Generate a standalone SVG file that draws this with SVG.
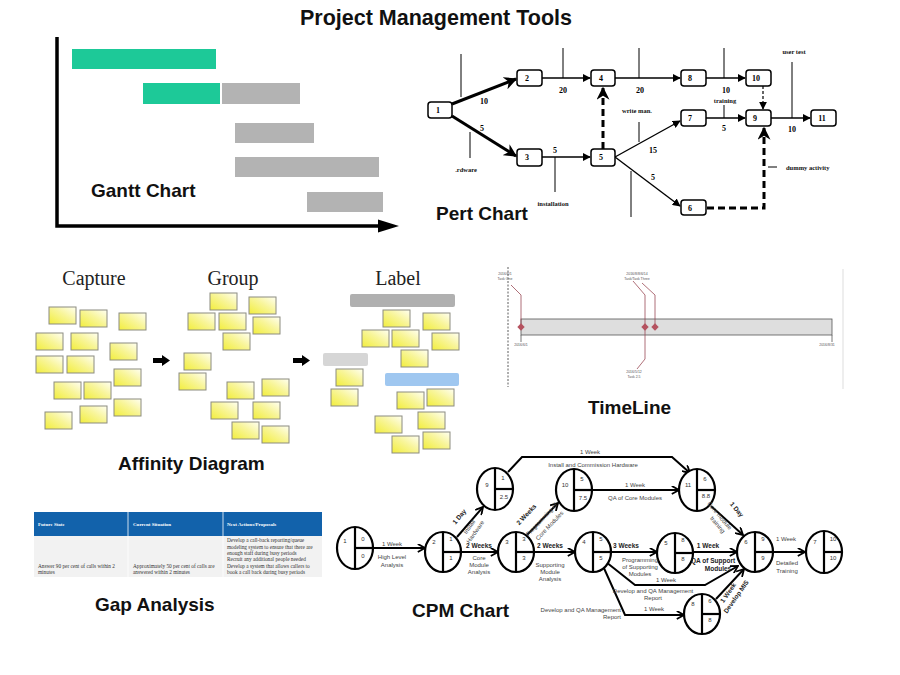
<svg xmlns="http://www.w3.org/2000/svg" width="900" height="675" viewBox="0 0 900 675">
<defs>
<style>
.h{font-family:"Liberation Sans",Arial,sans-serif;font-weight:bold;font-size:19px;fill:#111}
.af{font-family:"Liberation Serif","Times New Roman",serif;font-size:20px;fill:#222;text-anchor:middle}
.note{fill:url(#ng);stroke:#8c8c80;stroke-width:1}
.pn{fill:#fff;stroke:#000;stroke-width:1.5}
.pt{font-family:"Liberation Serif",serif;font-weight:bold;font-size:8px;fill:#000;text-anchor:middle}
.ps{font-family:"Liberation Serif",serif;font-weight:bold;font-size:6.5px;fill:#111;text-anchor:middle}
.pe{fill:none;stroke:#000;stroke-width:1.4}
.pthick{fill:none;stroke:#000;stroke-width:3}
.pd{fill:none;stroke:#000;stroke-width:3;stroke-dasharray:7,4}
.pdt{fill:none;stroke:#000;stroke-width:1.2;stroke-dasharray:3,2}
.tk{stroke:#000;stroke-width:1}
.tl{font-family:"Liberation Sans",sans-serif;font-size:3.5px;fill:#555;text-anchor:middle}
.tlc{fill:none;stroke:#9b4a55;stroke-width:0.8}
.dia{fill:#b5525f}
.cn ellipse{fill:#fff;stroke:#000;stroke-width:2.2}
.cn line{stroke:#000;stroke-width:2.2}
.cn text{font-family:"Liberation Sans",sans-serif;font-size:6px;fill:#333;text-anchor:middle}
.ce{fill:none;stroke:#000;stroke-width:2;marker-end:url(#ca)}
.cl{font-family:"Liberation Sans",sans-serif;font-size:6px;fill:#444;text-anchor:middle}
.cle{font-family:"Liberation Sans",sans-serif;font-size:6px;fill:#444;text-anchor:end}
.cb{font-family:"Liberation Sans",sans-serif;font-size:6.5px;font-weight:bold;fill:#222;text-anchor:middle}
.gh{font-family:"Liberation Serif",serif;font-weight:bold;font-size:5px;fill:#fff}
.gb{font-family:"Liberation Serif",serif;font-size:5.3px;fill:#333}
</style>
<linearGradient id="ng" x1="0" y1="1" x2="1" y2="0">
<stop offset="0" stop-color="#f2ee3c"/>
<stop offset="0.55" stop-color="#f8f59a"/>
<stop offset="1" stop-color="#fffff2"/>
</linearGradient>
<marker id="pa" viewBox="0 0 10 10" refX="9" refY="5" markerWidth="8" markerHeight="8" markerUnits="userSpaceOnUse" orient="auto"><path d="M0,0 L10,5 L0,10 Z" fill="#000"/></marker>
<marker id="pab" viewBox="0 0 10 10" refX="9" refY="5" markerWidth="13" markerHeight="13" markerUnits="userSpaceOnUse" orient="auto"><path d="M0,0 L10,5 L0,10 L3,5 Z" fill="#000"/></marker>
<marker id="ca" viewBox="0 0 10 10" refX="9" refY="5" markerWidth="9" markerHeight="9" markerUnits="userSpaceOnUse" orient="auto"><path d="M1,0.5 L9,5 L1,9.5" fill="none" stroke="#000" stroke-width="2"/></marker>
</defs>
<rect width="900" height="675" fill="#fff"/>

<text x="436" y="25" class="h" style="font-size:21.5px;text-anchor:middle">Project Management Tools</text>

<!-- Gantt -->
<g id="gantt">
<rect x="72" y="49" width="144" height="20" fill="#1dc998"/>
<rect x="143" y="83" width="77" height="21" fill="#1dc998"/>
<rect x="222" y="83" width="78" height="21" fill="#b3b3b3"/>
<rect x="235" y="123" width="79" height="20" fill="#b3b3b3"/>
<rect x="235" y="157" width="144" height="20" fill="#b3b3b3"/>
<rect x="307" y="192" width="76" height="20" fill="#b3b3b3"/>
<path d="M57,37 L57,226 L382,226" fill="none" stroke="#000" stroke-width="3.5"/>
<path d="M378,219.5 L399,226 L378,232.5 Z" fill="#000"/>
<text x="91" y="197" class="h">Gantt Chart</text>
</g>

<!-- Pert chart -->
<g id="pert">
<g id="pert-connectors">
<line x1="461" y1="54" x2="461" y2="97" class="tk"/>
<line x1="470" y1="132" x2="470" y2="158" class="tk"/>
<line x1="563" y1="48" x2="563" y2="78" class="tk"/>
<line x1="639" y1="48" x2="639" y2="78" class="tk"/>
<line x1="555" y1="157" x2="555" y2="192" class="tk"/>
<line x1="639" y1="122" x2="639" y2="142" class="tk"/>
<line x1="631" y1="171" x2="631" y2="217" class="tk"/>
<line x1="724" y1="48" x2="724" y2="78" class="tk"/>
<line x1="724" y1="105" x2="724" y2="118" class="tk"/>
<line x1="792" y1="62" x2="792" y2="118" class="tk"/>
<line x1="768" y1="167" x2="777" y2="167" class="tk"/>
<path d="M452,104 L516,79" class="pthick" marker-end="url(#pab)"/>
<path d="M452,116 L516,156" class="pthick" marker-end="url(#pab)"/>
<path d="M542,78 L590,78" class="pe" marker-end="url(#pa)"/>
<path d="M615,78 L680,78" class="pe" marker-end="url(#pa)"/>
<path d="M706,78 L745,78" class="pe" marker-end="url(#pa)"/>
<path d="M542,157 L590,157" class="pe" marker-end="url(#pa)"/>
<path d="M603,149 L603,88" class="pd" marker-end="url(#pab)"/>
<path d="M615,157 L680,121" class="pe" marker-end="url(#pa)"/>
<path d="M615,157 L680,206" class="pe" marker-end="url(#pa)"/>
<path d="M706,118 L745,118" class="pe" marker-end="url(#pa)"/>
<path d="M771,118 L810,118" class="pe" marker-end="url(#pa)"/>
<path d="M763,86 L763,109" class="pdt" marker-end="url(#pa)"/>
<path d="M707,208 L764,208 L764,128" class="pd" marker-end="url(#pab)"/>
</g>
<g id="pert-1"><rect x="428" y="102" width="24" height="16" rx="3" class="pn"/><text x="438" y="113" class="pt">1</text></g>
<g id="pert-2"><rect x="517" y="70" width="25" height="16" rx="3" class="pn"/><text x="527" y="81" class="pt">2</text></g>
<g id="pert-3"><rect x="517" y="149" width="25" height="17" rx="3" class="pn"/><text x="527" y="160" class="pt">3</text></g>
<g id="pert-4"><rect x="591" y="70" width="24" height="16" rx="3" class="pn"/><text x="601" y="81" class="pt">4</text></g>
<g id="pert-5"><rect x="591" y="149" width="24" height="17" rx="3" class="pn"/><text x="601" y="160" class="pt">5</text></g>
<g id="pert-6"><rect x="681" y="200" width="25" height="15" rx="3" class="pn"/><text x="690" y="211" class="pt">6</text></g>
<g id="pert-7"><rect x="681" y="110" width="25" height="16" rx="3" class="pn"/><text x="690" y="121" class="pt">7</text></g>
<g id="pert-8"><rect x="681" y="70" width="25" height="16" rx="3" class="pn"/><text x="690" y="81" class="pt">8</text></g>
<g id="pert-9"><rect x="746" y="110" width="25" height="16" rx="3" class="pn"/><text x="755" y="121" class="pt">9</text></g>
<g id="pert-10"><rect x="746" y="70" width="25" height="16" rx="3" class="pn"/><text x="756" y="81" class="pt">10</text></g>
<g id="pert-11"><rect x="811" y="110" width="25" height="16" rx="3" class="pn"/><text x="822" y="121" class="pt">11</text></g>
<g id="pert-labels">
<text x="484" y="104" class="pt">10</text>
<text x="482" y="131" class="pt">5</text>
<text x="563" y="93" class="pt">20</text>
<text x="640" y="93" class="pt">20</text>
<text x="555" y="153" class="pt">5</text>
<text x="653" y="153" class="pt">15</text>
<text x="653" y="180" class="pt">5</text>
<text x="726" y="93" class="pt">10</text>
<text x="724" y="131" class="pt">5</text>
<text x="792" y="132" class="pt">10</text>
<text x="466" y="172" class="ps">.rdware</text>
<text x="553" y="206" class="ps">installation</text>
<text x="637" y="113" class="ps">write man.</text>
<text x="725" y="103" class="ps">training</text>
<text x="794" y="54" class="ps">user test</text>
<text x="786" y="170" class="ps" style="text-anchor:start">dummy activity</text>
</g>
<text x="436" y="220" class="h">Pert Chart</text>
</g>

<!-- Affinity diagram -->
<g id="affinity">
<text x="94" y="285" class="af">Capture</text>
<text x="233" y="285" class="af">Group</text>
<text x="398" y="285" class="af">Label</text>
<g id="capture">
<rect x="49" y="307" width="27" height="17" class="note"/>
<rect x="80" y="310" width="27" height="17" class="note"/>
<rect x="119" y="313" width="27" height="17" class="note"/>
<rect x="36" y="333" width="27" height="17" class="note"/>
<rect x="71" y="333" width="27" height="17" class="note"/>
<rect x="110" y="343" width="27" height="17" class="note"/>
<rect x="36" y="356" width="27" height="17" class="note"/>
<rect x="67" y="356" width="27" height="17" class="note"/>
<rect x="114" y="369" width="27" height="17" class="note"/>
<rect x="54" y="382" width="27" height="17" class="note"/>
<rect x="84" y="382" width="27" height="17" class="note"/>
<rect x="114" y="399" width="27" height="17" class="note"/>
<rect x="80" y="406" width="27" height="17" class="note"/>
<rect x="45" y="412" width="27" height="17" class="note"/>
</g>
<path d="M153,358 L162,358 L162,355 L170,360.5 L162,366 L162,363 L153,363 Z" fill="#000"/>
<g id="group">
<rect x="210" y="293" width="27" height="17" class="note"/>
<rect x="249" y="297" width="27" height="17" class="note"/>
<rect x="188" y="313" width="27" height="17" class="note"/>
<rect x="219" y="313" width="27" height="17" class="note"/>
<rect x="253" y="317" width="27" height="17" class="note"/>
<rect x="223" y="333" width="27" height="17" class="note"/>
<rect x="184" y="353" width="27" height="17" class="note"/>
<rect x="179" y="373" width="27" height="17" class="note"/>
<rect x="227" y="382" width="27" height="17" class="note"/>
<rect x="262" y="379" width="27" height="17" class="note"/>
<rect x="211" y="402" width="27" height="17" class="note"/>
<rect x="253" y="402" width="27" height="17" class="note"/>
<rect x="232" y="422" width="27" height="17" class="note"/>
<rect x="262" y="426" width="27" height="17" class="note"/>
</g>
<path d="M293,358 L302,358 L302,355 L310,360.5 L302,366 L302,363 L293,363 Z" fill="#000"/>
<g id="label">
<rect x="350" y="294" width="105" height="13" rx="2" fill="#b0b0b0"/>
<rect x="383" y="310" width="27" height="17" class="note"/>
<rect x="423" y="313" width="27" height="17" class="note"/>
<rect x="362" y="330" width="27" height="17" class="note"/>
<rect x="392" y="330" width="27" height="17" class="note"/>
<rect x="432" y="333" width="27" height="17" class="note"/>
<rect x="401" y="350" width="27" height="17" class="note"/>
<rect x="323" y="353" width="45" height="13" rx="2" fill="#d6d6d6"/>
<rect x="336" y="369" width="27" height="17" class="note"/>
<rect x="331" y="389" width="27" height="17" class="note"/>
<rect x="385" y="373" width="74" height="13" rx="2" fill="#9fc7f0"/>
<rect x="397" y="392" width="27" height="17" class="note"/>
<rect x="427" y="389" width="27" height="17" class="note"/>
<rect x="375" y="416" width="27" height="17" class="note"/>
<rect x="418" y="412" width="27" height="17" class="note"/>
<rect x="392" y="436" width="27" height="17" class="note"/>
<rect x="423" y="432" width="27" height="17" class="note"/>
</g>
<text x="118" y="470" class="h">Affinity Diagram</text>
</g>

<!-- Timeline -->
<g id="timeline">
<line x1="508" y1="267" x2="508" y2="387" stroke="#333" stroke-width="0.8" stroke-dasharray="2,1.5"/>
<line x1="843" y1="269" x2="843" y2="389" stroke="#ddd" stroke-width="1"/>
<rect x="521" y="319" width="311" height="16" fill="#dedede" stroke="#555" stroke-width="0.8"/>
<line x1="521" y1="335" x2="521" y2="342" stroke="#555" stroke-width="0.8"/>
<line x1="832" y1="335" x2="832" y2="342" stroke="#555" stroke-width="0.8"/>
<path d="M511,285 L521,295 L521,324" class="tlc"/>
<path d="M633,281 L645,295 L645,359 L637,369" class="tlc"/>
<path d="M642,283 L655,295 L655,324" class="tlc"/>
<path d="M521,323.3 L524.7,327 L521,330.7 L517.3,327 Z" class="dia"/>
<path d="M645,323.3 L648.7,327 L645,330.7 L641.3,327 Z" class="dia"/>
<path d="M655,323.3 L658.7,327 L655,330.7 L651.3,327 Z" class="dia"/>
<text x="505" y="275" class="tl">2016/6/1</text>
<text x="505" y="280" class="tl">Task One</text>
<text x="637" y="275" class="tl">2016/8/8/6/14</text>
<text x="637" y="280" class="tl">Task/Task Three</text>
<text x="634" y="373" class="tl">2016/5/12</text>
<text x="634" y="378" class="tl">Task 2.5</text>
<text x="521" y="346" class="tl">2016/6/1</text>
<text x="827" y="346" class="tl">2016/8/31</text>
<text x="588" y="414" class="h">TimeLine</text>
</g>

<!-- Gap analysis -->
<g id="gap">
<rect x="34" y="512" width="288" height="24" fill="#1262ab"/>
<rect x="34" y="536" width="288" height="41" fill="#f2f2f2"/>
<line x1="128" y1="512" x2="128" y2="577" stroke="#fff" stroke-width="0.8"/>
<line x1="223" y1="512" x2="223" y2="577" stroke="#fff" stroke-width="0.8"/>
<text x="38" y="526" class="gh">Future State</text>
<text x="133" y="526" class="gh">Current Situation</text>
<text x="227" y="526" class="gh">Next Actions/Proposals</text>
<text x="38" y="568" class="gb">Answer 90 per cent of calls within 2</text>
<text x="38" y="574" class="gb">minutes</text>
<text x="133" y="568" class="gb">Approximately 50 per cent of calls are</text>
<text x="133" y="574" class="gb">answered within 2 minutes</text>
<text x="227" y="542" class="gb">Develop a call-back reporting/queue</text>
<text x="227" y="548.5" class="gb">modeling system to ensure that there are</text>
<text x="227" y="555" class="gb">enough staff during busy periods</text>
<text x="227" y="561" class="gb">Recruit any additional people needed</text>
<text x="227" y="567.5" class="gb">Develop a system that allows callers to</text>
<text x="227" y="574" class="gb">book a call back during busy periods</text>
<text x="95" y="611" class="h">Gap Analysis</text>
</g>

<!-- CPM chart -->
<g id="cpm">
<g id="cpm-connectors">
<path d="M372,548 L425,548" class="ce"/>
<path d="M457,537 L483,507" class="ce"/>
<path d="M461,552 L498,552" class="ce"/>
<path d="M527,535 L558,503" class="ce"/>
<path d="M534,552 L575,552" class="ce"/>
<path d="M508,472 L522,457 L672,457 L690,473" class="ce"/>
<path d="M591,490 L679,490" class="ce"/>
<path d="M711,506 L743,535" class="ce"/>
<path d="M611,552 L657,552" class="ce"/>
<path d="M693,552 L737,552" class="ce"/>
<path d="M773,552 L805,552" class="ce"/>
<path d="M606,562 L635,585 L705,585 L738,566" class="ce"/>
<path d="M603,566 L625,615 L684,615" class="ce"/>
<path d="M716,599 L744,569" class="ce"/>
</g>
<g id="cpm-1" class="cn" transform="translate(355,548)"><ellipse rx="18" ry="21"/><line x1="0" y1="-21" x2="0" y2="21"/><line x1="0" y1="0" x2="18" y2="0"/><text x="-10" y="-5">1</text><text x="8" y="-7">0</text><text x="8" y="10">0</text></g>
<g id="cpm-2" class="cn" transform="translate(443,552)"><ellipse rx="18" ry="20"/><line x1="0" y1="-20" x2="0" y2="20"/><line x1="0" y1="0" x2="18" y2="0"/><text x="-9" y="-8">2</text><text x="8" y="-11">1</text><text x="8" y="8">1</text></g>
<g id="cpm-3" class="cn" transform="translate(516,552)"><ellipse rx="18" ry="20"/><line x1="0" y1="-20" x2="0" y2="20"/><line x1="0" y1="0" x2="18" y2="0"/><text x="-9" y="-8">3</text><text x="8" y="-11">3</text><text x="8" y="8">3</text></g>
<g id="cpm-4" class="cn" transform="translate(593,552)"><ellipse rx="18" ry="20"/><line x1="0" y1="-20" x2="0" y2="20"/><line x1="0" y1="0" x2="18" y2="0"/><text x="-9" y="-8">4</text><text x="8" y="-11">5</text><text x="8" y="8">5</text></g>
<g id="cpm-5" class="cn" transform="translate(675,553)"><ellipse rx="18" ry="20"/><line x1="0" y1="-20" x2="0" y2="20"/><line x1="0" y1="0" x2="18" y2="0"/><text x="-9" y="-8">5</text><text x="8" y="-11">8</text><text x="8" y="8">8</text></g>
<g id="cpm-6" class="cn" transform="translate(755,552)"><ellipse rx="18" ry="20"/><line x1="0" y1="-20" x2="0" y2="20"/><line x1="0" y1="0" x2="18" y2="0"/><text x="-9" y="-8">6</text><text x="8" y="-11">9</text><text x="8" y="8">9</text></g>
<g id="cpm-7" class="cn" transform="translate(824,552)"><ellipse rx="18" ry="21"/><line x1="0" y1="-21" x2="0" y2="21"/><line x1="0" y1="0" x2="18" y2="0"/><text x="-9" y="-8">7</text><text x="9" y="-11">10</text><text x="9" y="8">10</text></g>
<g id="cpm-8" class="cn" transform="translate(702,614)"><ellipse rx="18" ry="20"/><line x1="0" y1="-20" x2="0" y2="20"/><line x1="0" y1="0" x2="18" y2="0"/><text x="-9" y="-8">8</text><text x="8" y="-11">6</text><text x="8" y="8">8</text></g>
<g id="cpm-9" class="cn" transform="translate(495,489)"><ellipse rx="18" ry="21"/><line x1="0" y1="-21" x2="0" y2="21"/><line x1="0" y1="0" x2="18" y2="0"/><text x="-8" y="-2">9</text><text x="8" y="-9">1</text><text x="9" y="10">2.5</text></g>
<g id="cpm-10" class="cn" transform="translate(574,490)"><ellipse rx="18" ry="21"/><line x1="0" y1="-21" x2="0" y2="21"/><line x1="0" y1="0" x2="18" y2="0"/><text x="-9" y="-3">10</text><text x="8" y="-9">5</text><text x="9" y="10">7.5</text></g>
<g id="cpm-11" class="cn" transform="translate(697,490)"><ellipse rx="18" ry="21"/><line x1="0" y1="-21" x2="0" y2="21"/><line x1="0" y1="0" x2="18" y2="0"/><text x="-9" y="-3">11</text><text x="8" y="-9">6</text><text x="9" y="8">8.8</text></g>
<g id="cpm-labels">
<text x="392" y="546" class="cl">1 Week</text>
<text x="392" y="559" class="cl">High Level</text>
<text x="392" y="567" class="cl">Analysis</text>
<text transform="translate(461,518) rotate(-50)" class="cb">1 Day</text>
<text transform="translate(471,528) rotate(-55)" class="cl">Install</text>
<text transform="translate(477,533) rotate(-55)" class="cl">Hardware</text>
<text x="479" y="548" class="cb">2 Weeks</text>
<text x="479" y="560" class="cl">Core</text>
<text x="479" y="567" class="cl">Module</text>
<text x="479" y="574" class="cl">Analysis</text>
<text transform="translate(528,516) rotate(-47)" class="cb">2 Weeks</text>
<text transform="translate(543,521) rotate(-47)" class="cl">Programming of</text>
<text transform="translate(551,527) rotate(-47)" class="cl">Core Modules</text>
<text x="550" y="548" class="cb">2 Weeks</text>
<text x="550" y="567" class="cl">Supporting</text>
<text x="550" y="574" class="cl">Module</text>
<text x="550" y="581" class="cl">Analysis</text>
<text x="590" y="454" class="cl">1 Week</text>
<text x="593" y="467" class="cl">Install and Commission Hardware</text>
<text x="635" y="487" class="cl">1 Week</text>
<text x="635" y="500" class="cl">QA of Core Modules</text>
<text transform="translate(735,511) rotate(50)" class="cb">1 Day</text>
<text transform="translate(718,517) rotate(50)" class="cl">Core module</text>
<text transform="translate(716,526) rotate(50)" class="cl">training</text>
<text x="626" y="548" class="cb">3 Weeks</text>
<text x="640" y="562" class="cl">Programming</text>
<text x="640" y="569" class="cl">of Supporting</text>
<text x="640" y="576" class="cl">Modules</text>
<text x="708" y="548" class="cb">1 Week</text>
<text x="713" y="563" class="cb">QA of Support</text>
<text x="718" y="571" class="cb">Modules</text>
<text x="786" y="541" class="cl">1 Week</text>
<text x="787" y="565" class="cl">Detailed</text>
<text x="787" y="573" class="cl">Training</text>
<text x="666" y="582" class="cl">1 Week</text>
<text x="653" y="593" class="cl">Develop and QA Management</text>
<text x="653" y="600" class="cl">Report</text>
<text x="654" y="611" class="cl">1 Week</text>
<text x="621" y="612" class="cle">Develop and QA Management</text>
<text x="621" y="619" class="cle">Report</text>
<text transform="translate(730,594) rotate(-55)" class="cb">1 Week</text>
<text transform="translate(738,598) rotate(-55)" class="cb">Develop MIS</text>
</g>
<text x="412" y="617" class="h">CPM Chart</text>
</g>
</svg>
